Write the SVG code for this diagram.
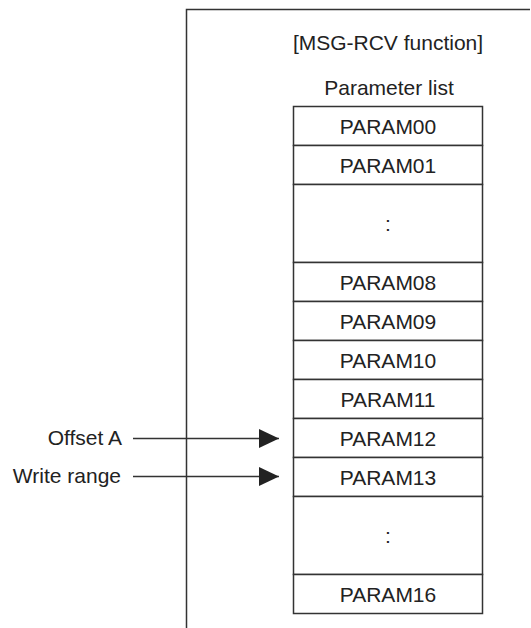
<svg xmlns="http://www.w3.org/2000/svg" width="531" height="628" viewBox="0 0 531 628">
<defs>
<style>
text{font-family:"Liberation Sans",Arial,sans-serif;font-size:21px;fill:#222;}
.c{text-anchor:middle;}
.r{text-anchor:end;}
.cell{fill:#fff;stroke:#333;stroke-width:1.5;}
.ln{stroke:#333;stroke-width:1.5;fill:none;}
</style>
<marker id="ah" viewBox="0 0 20 20" refX="20" refY="10" markerWidth="20" markerHeight="19" markerUnits="userSpaceOnUse" orient="auto" preserveAspectRatio="none">
<path d="M0,0 L20,10 L0,20 Z" fill="#222"/>
</marker>
</defs>
<g id="frame">
<path class="ln" d="M186.5,628 V9.5 H530"/>
<text class="c" x="388" y="50">[MSG-RCV function]</text>
<text class="c" x="389" y="95">Parameter list</text>
</g>
<g id="param-list">
<g id="p00"><rect class="cell" x="293.5" y="106.5" width="189" height="39"/><text class="c" x="388" y="133.5">PARAM00</text></g>
<g id="p01"><rect class="cell" x="293.5" y="145.5" width="189" height="39"/><text class="c" x="388" y="172.5">PARAM01</text></g>
<g id="pdots1"><rect class="cell" x="293.5" y="184.5" width="189" height="78"/><text class="c" x="388" y="231">:</text></g>
<g id="p08"><rect class="cell" x="293.5" y="262.5" width="189" height="39"/><text class="c" x="388" y="289.5">PARAM08</text></g>
<g id="p09"><rect class="cell" x="293.5" y="301.5" width="189" height="39"/><text class="c" x="388" y="328.5">PARAM09</text></g>
<g id="p10"><rect class="cell" x="293.5" y="340.5" width="189" height="39"/><text class="c" x="388" y="367.5">PARAM10</text></g>
<g id="p11"><rect class="cell" x="293.5" y="379.5" width="189" height="39"/><text class="c" x="388" y="406.5">PARAM11</text></g>
<g id="p12"><rect class="cell" x="293.5" y="418.5" width="189" height="39"/><text class="c" x="388" y="445.5">PARAM12</text></g>
<g id="p13"><rect class="cell" x="293.5" y="457.5" width="189" height="39"/><text class="c" x="388" y="484.5">PARAM13</text></g>
<g id="pdots2"><rect class="cell" x="293.5" y="496.5" width="189" height="78"/><text class="c" x="388" y="543">:</text></g>
<g id="p16"><rect class="cell" x="293.5" y="574.5" width="189" height="39"/><text class="c" x="388" y="601.5">PARAM16</text></g>
</g>
<g id="offset-a"><text class="r" x="122" y="445">Offset A</text></g>
<g id="write-range"><text class="r" x="121" y="483">Write range</text></g>
<g id="connectors">
<line class="ln" x1="133" y1="438.5" x2="279" y2="438.5" marker-end="url(#ah)"/>
<line class="ln" x1="133" y1="476.5" x2="279" y2="476.5" marker-end="url(#ah)"/>
</g>
</svg>
